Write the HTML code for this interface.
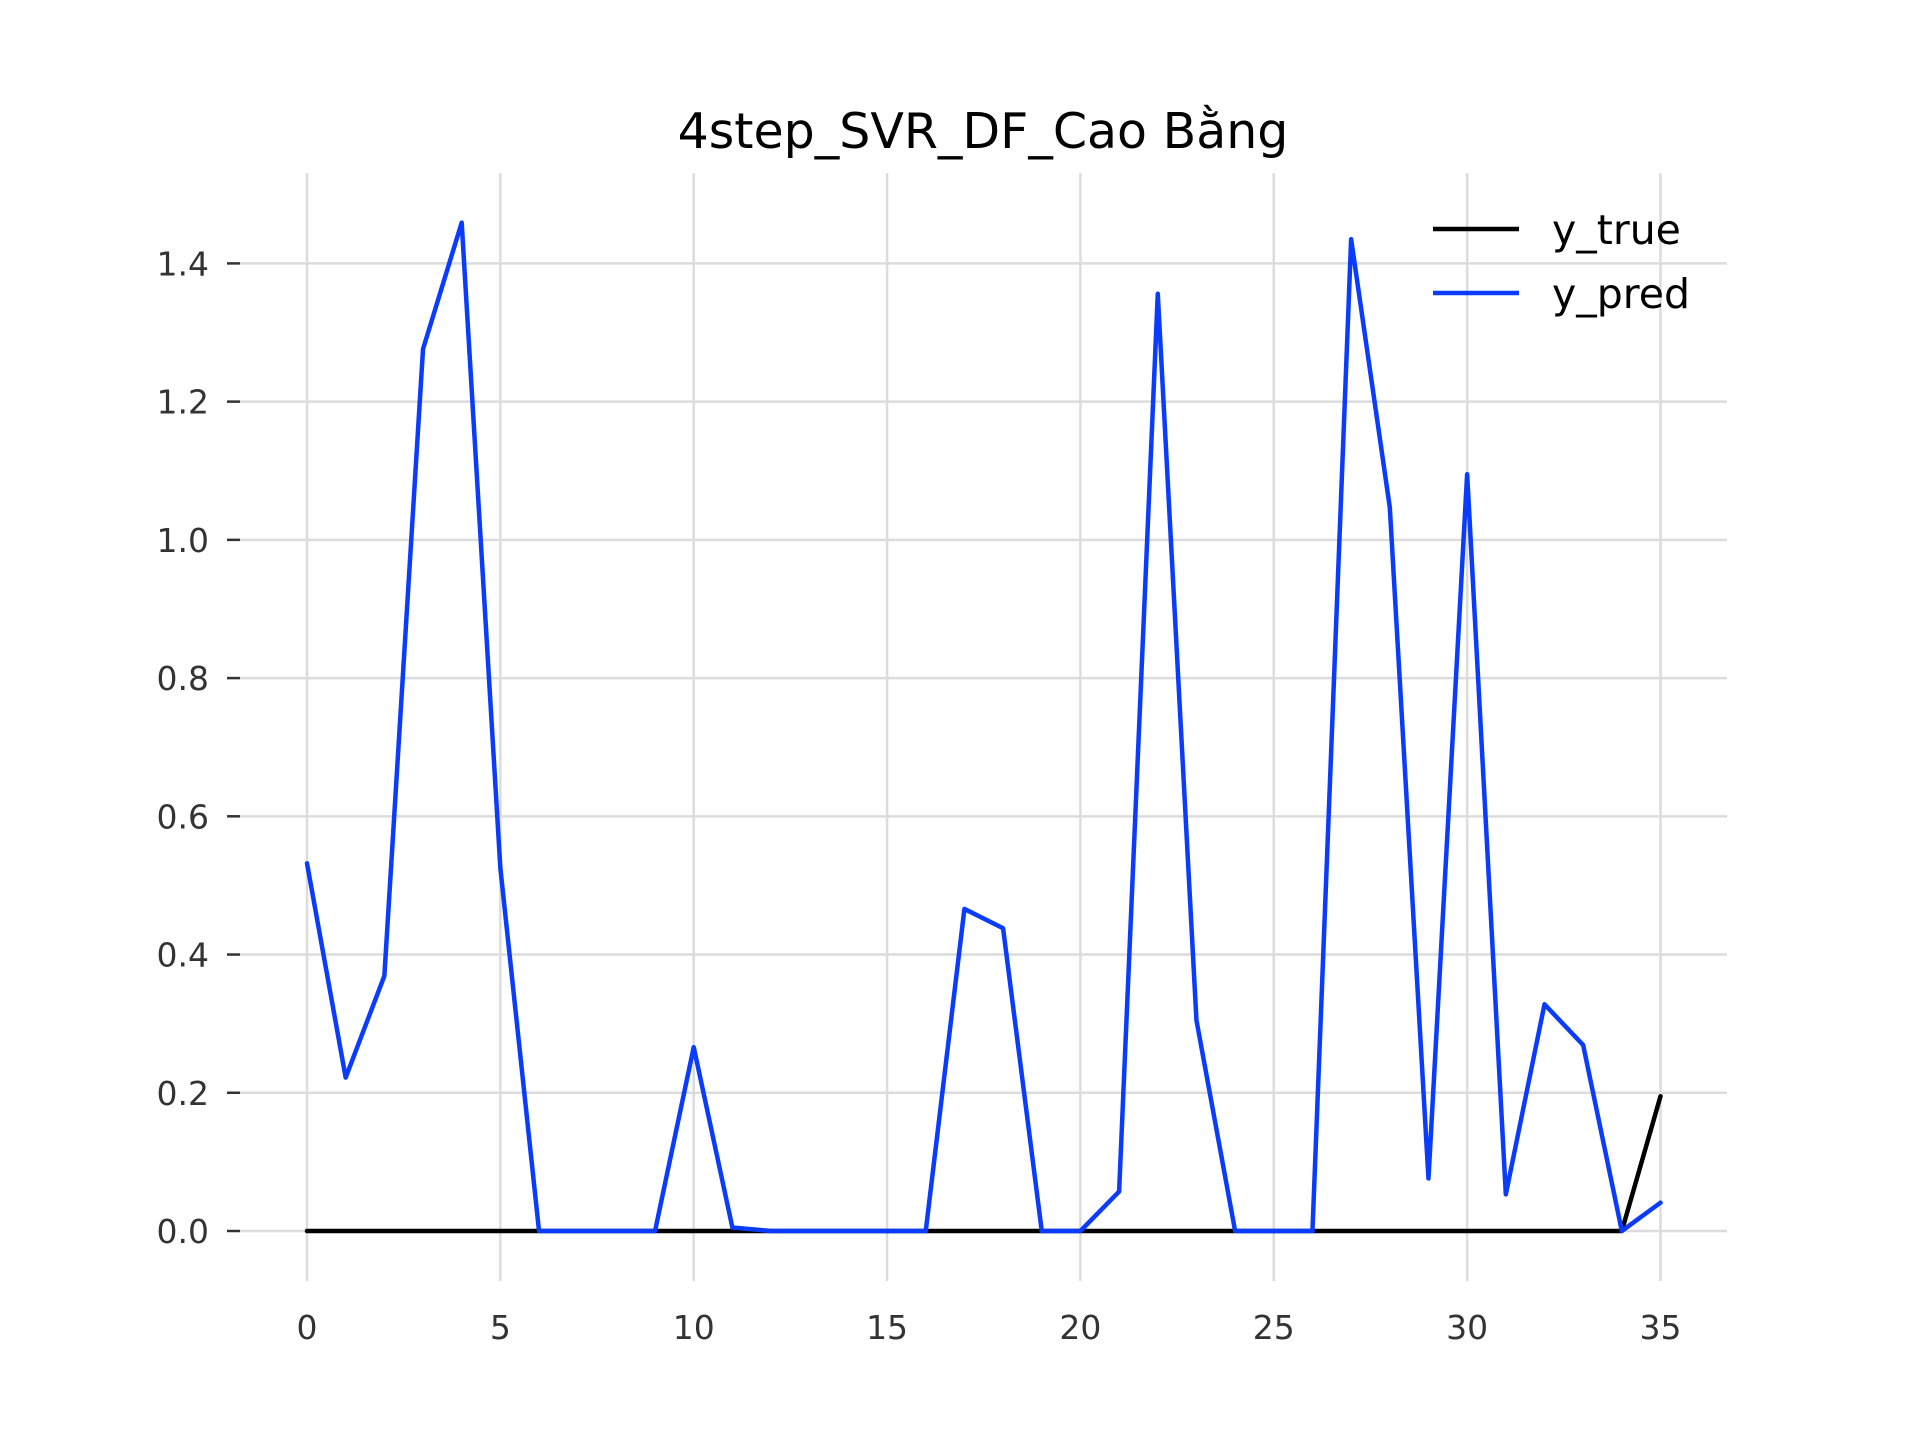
<!DOCTYPE html>
<html><head><meta charset="utf-8"><style>
html,body{margin:0;padding:0;background:#fff;}
svg{display:block;font-family:"DejaVu Sans","Liberation Sans",sans-serif;}
</style></head><body>
<svg id="chart" width="1920" height="1440" viewBox="0 0 1920 1440" xmlns="http://www.w3.org/2000/svg">
<rect width="1920" height="1440" fill="#fff"/>
<text x="983" y="148" text-anchor="middle" font-size="49" fill="#000">4step_SVR_DF_Cao Bằng</text>
<g id="grid"></g><g id="axes"></g><g id="series"></g>
<g>
<line x1="1433" y1="229" x2="1519" y2="229" stroke="#000" stroke-width="4.5"/>
<text x="1552" y="244" font-size="41" fill="#000">y_true</text>
<line x1="1433" y1="293" x2="1519" y2="293" stroke="#0a3cff" stroke-width="4.5"/>
<text x="1552" y="308" font-size="41" fill="#000">y_pred</text>
</g>
</svg>
<script>
const xTicks=[0,5,10,15,20,25,30,35];
const yTicks=[0,0.2,0.4,0.6,0.8,1.0,1.2,1.4];
const yTrue=[0,0,0,0,0,0,0,0,0,0,0,0,0,0,0,0,0,0,0,0,0,0,0,0,0,0,0,0,0,0,0,0,0,0,0,0.195];
const yPred=[0.532,0.222,0.369,1.276,1.459,0.525,0,0,0,0,0.266,0.005,0,0,0,0,0,0.466,0.438,0,0,0.057,1.356,0.305,0,0,0,1.435,1.047,0.076,1.095,0.053,0.328,0.269,0,0.041];
const NS="http://www.w3.org/2000/svg";
const sx=v=>307+v*(1660.5-307)/35;
const sy=v=>1231-v*(1231-263.4)/1.4;
const grid=document.getElementById('grid'),axes=document.getElementById('axes'),ser=document.getElementById('series');
function mk(tag,attrs,parent){const e=document.createElementNS(NS,tag);for(const k in attrs)e.setAttribute(k,attrs[k]);parent.appendChild(e);return e;}
xTicks.forEach(t=>{
 const l=mk('line',{x1:sx(t),x2:sx(t),y1:173,y2:1281,stroke:'#dcdcdc','stroke-width':2.5},grid);
 
 
 const tx=mk('text',{x:sx(t),y:1339,'text-anchor':'middle','font-size':33,fill:'#333'},axes);
 tx.textContent=t;
 
 
});
yTicks.forEach(t=>{
 const l=mk('line',{x1:240,x2:1727,y1:sy(t),y2:sy(t),stroke:'#dcdcdc','stroke-width':2.5},grid);
 
 
 const tk=mk('line',{x1:227,x2:240,y1:sy(t),y2:sy(t),stroke:'#333','stroke-width':2.5},axes);
 
 
 const tx=mk('text',{x:209,y:sy(t)+12,'text-anchor':'end','font-size':33,fill:'#333'},axes);
 tx.textContent=t.toFixed(1);
 
 
});
function line(data,color,name){
 const p=mk('polyline',{points:data.map((v,i)=>sx(i)+','+sy(v)).join(' '),fill:'none',stroke:color,'stroke-width':4.5,'stroke-linejoin':'round','stroke-linecap':'round'},ser);
 
 
}
line(yTrue,'#000','y-true-line');
line(yPred,'#0a3cff','y-pred-line');
</script>
</body></html>
